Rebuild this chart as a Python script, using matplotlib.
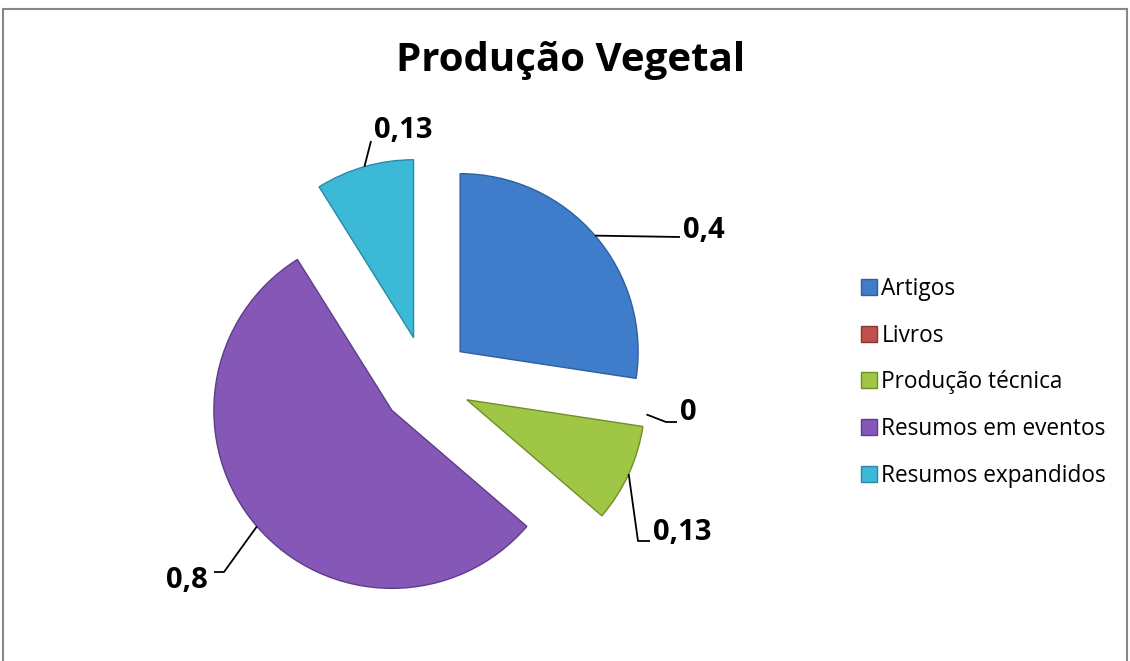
import numpy as np
import matplotlib.pyplot as plt
from matplotlib.patches import Rectangle

plt.rcParams['font.family'] = ['Open Sans', 'DejaVu Sans']

categorias = ['Artigos', 'Livros', 'Produção técnica', 'Resumos em eventos', 'Resumos expandidos']
valores = [0.4, 0, 0.13, 0.8, 0.13]
rotulos = ['0,4', '0', '0,13', '0,8', '0,13']
cores = ['#3f7cc9', '#c0504d', '#9fc644', '#8558b8', '#3bb9d6']
bordas = ['#2f5f9e', '#8f3330', '#6f8f2a', '#5e3c88', '#2a8aa3']

W, H = 1130, 661
fig = plt.figure(figsize=(W / 100, H / 100), dpi=100)
ax = fig.add_axes([0, 0, 1, 1])

R = 178
# explode is in data units here (pixels), not a fraction of the radius
wedges, _ = ax.pie(valores, radius=R, center=(426, 280), startangle=90,
                   counterclock=False, explode=[45] * 5, colors=cores,
                   wedgeprops=dict(linewidth=1.0), frame=True)
for w, b in zip(wedges, bordas):
    w.set_edgecolor(b)
ax.set_xlim(0, W)
ax.set_ylim(0, H)
ax.set_aspect('auto')
ax.axis('off')

# label text position and line path (elbow points), in pixel coords from top
rot_pos = [(683, 231, 'left'), (680, 413, 'left'), (653, 532, 'left'),
           (208, 581, 'right'), (374, 131, 'left')]
rot_linha = [[(680, 237)], [(666, 422), (677, 422)], [(638, 541), (650, 541)],
             [(224, 572), (214, 572)], [(371, 141)]]

for w, txt, (tx, ty, ha), pts in zip(wedges, rotulos, rot_pos, rot_linha):
    ang = np.deg2rad((w.theta1 + w.theta2) / 2)
    cx, cy = w.center
    ax0 = cx + w.r * np.cos(ang)
    ay0 = cy + w.r * np.sin(ang)
    xs = [ax0] + [p[0] for p in pts]
    ys = [ay0] + [H - p[1] for p in pts]
    ax.plot(xs, ys, color='black', lw=1.3, solid_capstyle='butt')
    ax.text(tx, H - ty, txt, ha=ha, va='center', fontsize=21, fontweight='bold')

fig.text(571 / W, 1 - 60 / H, 'Produção Vegetal', ha='center', va='center',
         fontsize=29, fontweight='bold')

leg = fig.legend(wedges, categorias, loc='upper left',
                 bbox_to_anchor=(852 / W, 1 - 268 / H), frameon=False,
                 fontsize=16.3, handlelength=0.7, handleheight=0.7,
                 handletextpad=0.2, labelspacing=1.0, borderaxespad=0)

# the empty slice should not leave a line in the pie
for w, v in zip(wedges, valores):
    if v == 0:
        w.set_linewidth(0)

fig.patches.append(Rectangle((3 / W, -0.05), 1124 / W, 1.05 - 9 / H,
                             transform=fig.transFigure, fill=False,
                             edgecolor='#888888', lw=1.5))

fig.savefig('out.png', dpi=100)
